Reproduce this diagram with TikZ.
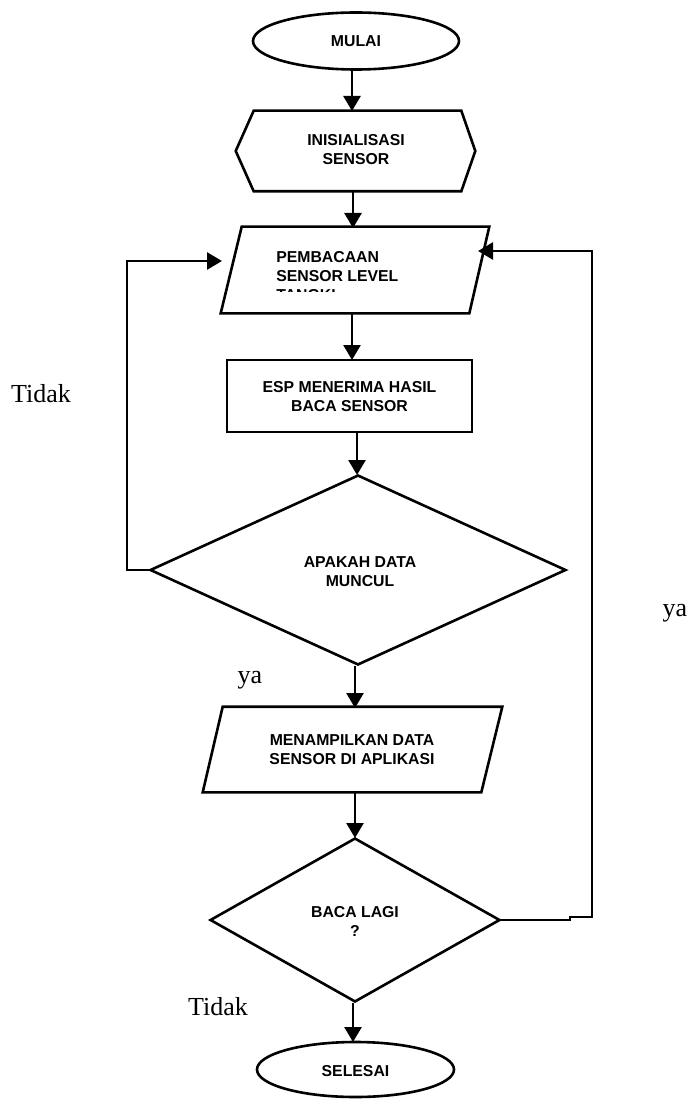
\documentclass[tikz,border=0pt]{standalone}
\usepackage{fontspec}
\setmainfont{Liberation Serif}
\newfontfamily\arialfont{Liberation Sans}
\usetikzlibrary{shapes.geometric,arrows.meta,calc}
\begin{document}
\begin{tikzpicture}[x=1pt,y=-1pt,
  line width=2.6pt,
  boxtext/.style={font=\arialfont\bfseries\fontsize{15.8}{19}\selectfont, align=center, inner sep=0pt},
  lbl/.style={font=\fontsize{26}{28}\selectfont, inner sep=0pt},
  frame/.style={draw=none, inner sep=0pt},
  flow/.style={-{Triangle[length=15pt,width=17pt]}},
  plain/.style={line join=miter}
]
\useasboundingbox (0,0) rectangle (691,1099);

% terminals
\node[ellipse, draw, minimum width=206pt, minimum height=57pt, inner sep=0pt] (mulai) at (356,41) {};
\node[boxtext] (tmulai) at (356,41) {MULAI};

% initialization hexagon
\node[frame, minimum width=237pt, minimum height=78pt] (init) at (355.5,151) {};
\draw[plain] (init.west) -- ($(init.north west)+(18,0)$) -- ($(init.north east)+(-14,0)$)
  -- (init.east) -- ($(init.south east)+(-14,0)$) -- ($(init.south west)+(18,0)$) -- cycle;
\node[boxtext] (tinit) at (356,150) {INISIALISASI\\SENSOR};

% input parallelogram
\node[frame, minimum width=266pt, minimum height=84pt] (baca) at (355,270) {};
\draw[plain] ($(baca.north west)+(21,0)$) -- (baca.north east) -- ($(baca.south east)+(-20,0)$)
  -- (baca.south west) -- cycle;
\begin{scope}
  \clip (230,240) rectangle (480,291.5);
  \node[boxtext, align=left, anchor=north west] (tbaca) at (275,250) {PEMBACAAN\\SENSOR LEVEL\\TANGKI};
\end{scope}

% process rectangle
\node[draw, minimum width=245pt, minimum height=72pt, inner sep=0pt] (esp) at (349.5,396) {};
\node[boxtext] (tesp) at (349.5,397) {ESP MENERIMA HASIL\\BACA SENSOR};

% decision 1
\node[diamond, draw, minimum width=416pt, minimum height=190pt, inner sep=0pt] (q1) at (358,570) {};
\node[boxtext] (tq1) at (360,571.5) {APAKAH DATA\\MUNCUL};

% output parallelogram
\node[frame, minimum width=297pt, minimum height=83pt] (tampil) at (352.5,749.5) {};
\draw[plain] ($(tampil.north west)+(20,0)$) -- (tampil.north east) -- ($(tampil.south east)+(-21,0)$)
  -- (tampil.south west) -- cycle;
\node[boxtext] (ttampil) at (352,750) {MENAMPILKAN DATA\\SENSOR DI APLIKASI};

% decision 2
\node[diamond, draw, minimum width=290pt, minimum height=164pt, inner sep=0pt] (q2) at (355,920) {};
\node[boxtext] (tq2) at (355,921) {BACA LAGI\\?};

% end terminal
\node[ellipse, draw, minimum width=197pt, minimum height=55pt, inner sep=0pt] (selesai) at (355.5,1069.5) {};
\node[boxtext] (tselesai) at (355.5,1071) {SELESAI};

% loop coordinates
\coordinate (l1) at (127,570);
\coordinate (l2) at (127,261);
\coordinate (l3) at (222,261);
\coordinate (r1) at (570,920);
\coordinate (r2) at (570,917);
\coordinate (r3) at (592,917);
\coordinate (r4) at (592,251);
\coordinate (r5) at (478,251);

% connectors
\draw[flow] (mulai.south -| 352,0) -- (352,111);
\draw[flow] (init.south -| 353,0) -- (353,228);
\draw[flow] (baca.south -| 352,0) -- (352,360);
\draw[flow] (esp.south -| 357,0) -- (357,475);
\draw[flow] (q1.south -| 355,0) -- (355,708);
\draw[flow] (tampil.south -| 355,0) -- (355,838);
\draw[flow] (q2.south -| 353,0) -- (353,1042);
\draw[flow, plain] (q1.west) -- (l1) -- (l2) -- (l3);
\draw[flow, plain] (q2.east) -- (r1) -- (r2) -- (r3) -- (r4) -- (r5);

% labels
\node[lbl] (tidak1) at (41,394) {Tidak};
\node[lbl] (ya1) at (250,680) {ya};
\node[lbl] (ya2) at (675,613) {ya};
\node[lbl] (tidak2) at (218,1007) {Tidak};
\end{tikzpicture}
\end{document}
